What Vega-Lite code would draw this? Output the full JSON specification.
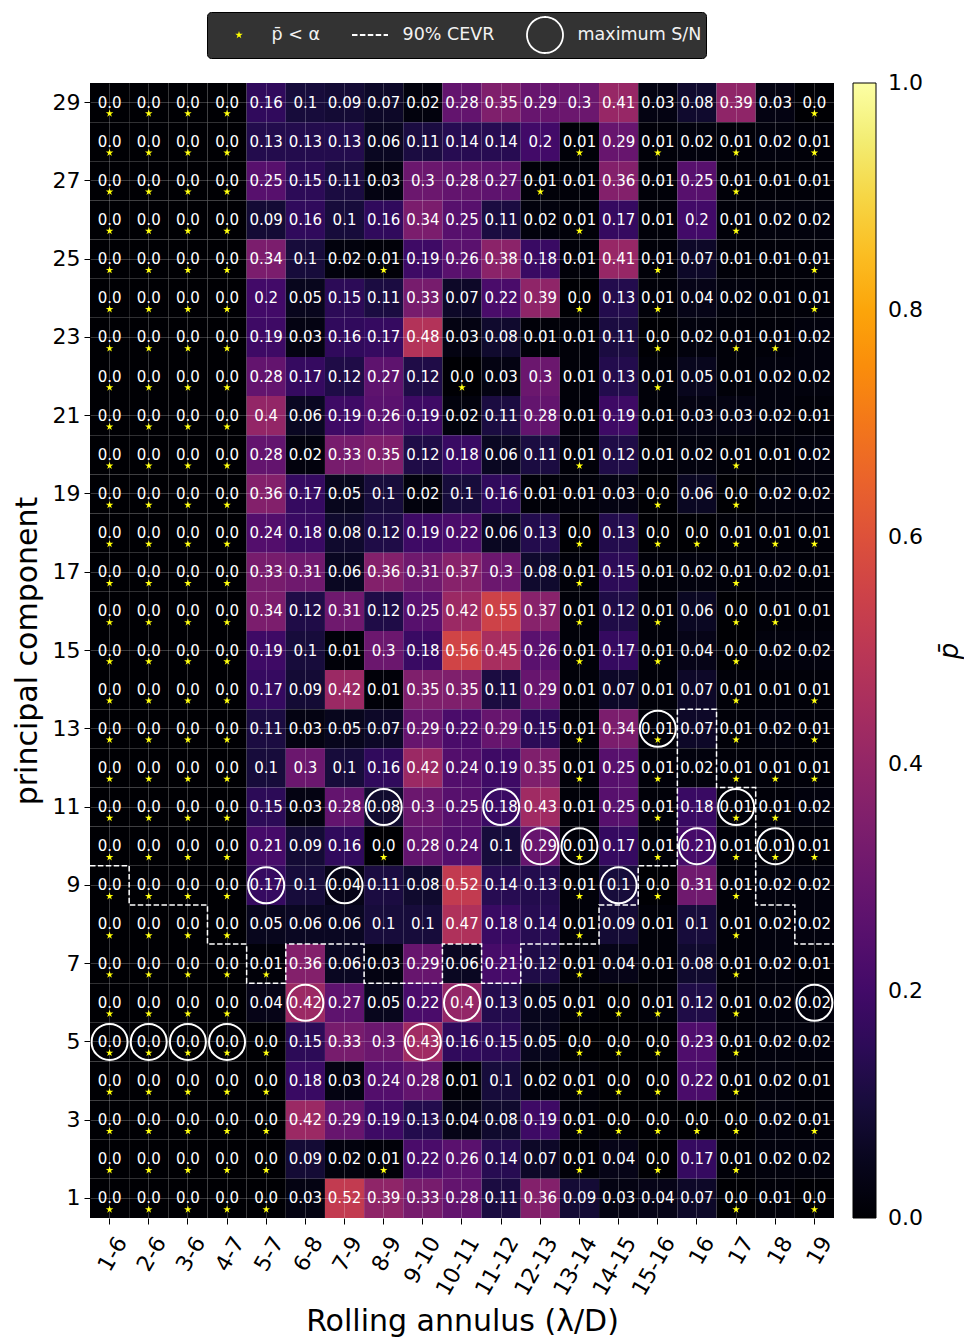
{
  "$schema": "https://vega.github.io/schema/vega-lite/v6.json",
  "width": 744,
  "height": 1135,
  "autosize": {"type": "none"},
  "padding": {"left": 90, "top": 83, "right": 130, "bottom": 119},
  "background": "white",
  "config": {"font": "DejaVu Sans", "view": {"stroke": null}},
  "datasets": {
    "cells": [
      {"a":"1-6","k":29,"p":"0.0","s":1},{"a":"2-6","k":29,"p":"0.0","s":1},{"a":"3-6","k":29,"p":"0.0","s":1},{"a":"4-7","k":29,"p":"0.0","s":1},{"a":"5-7","k":29,"p":"0.16"},{"a":"6-8","k":29,"p":"0.1"},{"a":"7-9","k":29,"p":"0.09"},{"a":"8-9","k":29,"p":"0.07"},{"a":"9-10","k":29,"p":"0.02"},{"a":"10-11","k":29,"p":"0.28"},{"a":"11-12","k":29,"p":"0.35"},{"a":"12-13","k":29,"p":"0.29"},{"a":"13-14","k":29,"p":"0.3"},{"a":"14-15","k":29,"p":"0.41"},{"a":"15-16","k":29,"p":"0.03"},{"a":"16","k":29,"p":"0.08"},{"a":"17","k":29,"p":"0.39"},{"a":"18","k":29,"p":"0.03"},{"a":"19","k":29,"p":"0.0","s":1},
      {"a":"1-6","k":28,"p":"0.0","s":1},{"a":"2-6","k":28,"p":"0.0","s":1},{"a":"3-6","k":28,"p":"0.0","s":1},{"a":"4-7","k":28,"p":"0.0","s":1},{"a":"5-7","k":28,"p":"0.13"},{"a":"6-8","k":28,"p":"0.13"},{"a":"7-9","k":28,"p":"0.13"},{"a":"8-9","k":28,"p":"0.06"},{"a":"9-10","k":28,"p":"0.11"},{"a":"10-11","k":28,"p":"0.14"},{"a":"11-12","k":28,"p":"0.14"},{"a":"12-13","k":28,"p":"0.2"},{"a":"13-14","k":28,"p":"0.01","s":1},{"a":"14-15","k":28,"p":"0.29"},{"a":"15-16","k":28,"p":"0.01","s":1},{"a":"16","k":28,"p":"0.02"},{"a":"17","k":28,"p":"0.01","s":1},{"a":"18","k":28,"p":"0.02"},{"a":"19","k":28,"p":"0.01","s":1},
      {"a":"1-6","k":27,"p":"0.0","s":1},{"a":"2-6","k":27,"p":"0.0","s":1},{"a":"3-6","k":27,"p":"0.0","s":1},{"a":"4-7","k":27,"p":"0.0","s":1},{"a":"5-7","k":27,"p":"0.25"},{"a":"6-8","k":27,"p":"0.15"},{"a":"7-9","k":27,"p":"0.11"},{"a":"8-9","k":27,"p":"0.03"},{"a":"9-10","k":27,"p":"0.3"},{"a":"10-11","k":27,"p":"0.28"},{"a":"11-12","k":27,"p":"0.27"},{"a":"12-13","k":27,"p":"0.01","s":1},{"a":"13-14","k":27,"p":"0.01"},{"a":"14-15","k":27,"p":"0.36"},{"a":"15-16","k":27,"p":"0.01"},{"a":"16","k":27,"p":"0.25"},{"a":"17","k":27,"p":"0.01","s":1},{"a":"18","k":27,"p":"0.01"},{"a":"19","k":27,"p":"0.01"},
      {"a":"1-6","k":26,"p":"0.0","s":1},{"a":"2-6","k":26,"p":"0.0","s":1},{"a":"3-6","k":26,"p":"0.0","s":1},{"a":"4-7","k":26,"p":"0.0","s":1},{"a":"5-7","k":26,"p":"0.09"},{"a":"6-8","k":26,"p":"0.16"},{"a":"7-9","k":26,"p":"0.1"},{"a":"8-9","k":26,"p":"0.16"},{"a":"9-10","k":26,"p":"0.34"},{"a":"10-11","k":26,"p":"0.25"},{"a":"11-12","k":26,"p":"0.11"},{"a":"12-13","k":26,"p":"0.02"},{"a":"13-14","k":26,"p":"0.01","s":1},{"a":"14-15","k":26,"p":"0.17"},{"a":"15-16","k":26,"p":"0.01"},{"a":"16","k":26,"p":"0.2"},{"a":"17","k":26,"p":"0.01","s":1},{"a":"18","k":26,"p":"0.02"},{"a":"19","k":26,"p":"0.02"},
      {"a":"1-6","k":25,"p":"0.0","s":1},{"a":"2-6","k":25,"p":"0.0","s":1},{"a":"3-6","k":25,"p":"0.0","s":1},{"a":"4-7","k":25,"p":"0.0","s":1},{"a":"5-7","k":25,"p":"0.34"},{"a":"6-8","k":25,"p":"0.1"},{"a":"7-9","k":25,"p":"0.02"},{"a":"8-9","k":25,"p":"0.01","s":1},{"a":"9-10","k":25,"p":"0.19"},{"a":"10-11","k":25,"p":"0.26"},{"a":"11-12","k":25,"p":"0.38"},{"a":"12-13","k":25,"p":"0.18"},{"a":"13-14","k":25,"p":"0.01"},{"a":"14-15","k":25,"p":"0.41"},{"a":"15-16","k":25,"p":"0.01","s":1},{"a":"16","k":25,"p":"0.07"},{"a":"17","k":25,"p":"0.01"},{"a":"18","k":25,"p":"0.01"},{"a":"19","k":25,"p":"0.01","s":1},
      {"a":"1-6","k":24,"p":"0.0","s":1},{"a":"2-6","k":24,"p":"0.0","s":1},{"a":"3-6","k":24,"p":"0.0","s":1},{"a":"4-7","k":24,"p":"0.0","s":1},{"a":"5-7","k":24,"p":"0.2"},{"a":"6-8","k":24,"p":"0.05"},{"a":"7-9","k":24,"p":"0.15"},{"a":"8-9","k":24,"p":"0.11"},{"a":"9-10","k":24,"p":"0.33"},{"a":"10-11","k":24,"p":"0.07"},{"a":"11-12","k":24,"p":"0.22"},{"a":"12-13","k":24,"p":"0.39"},{"a":"13-14","k":24,"p":"0.0","s":1},{"a":"14-15","k":24,"p":"0.13"},{"a":"15-16","k":24,"p":"0.01","s":1},{"a":"16","k":24,"p":"0.04"},{"a":"17","k":24,"p":"0.02"},{"a":"18","k":24,"p":"0.01"},{"a":"19","k":24,"p":"0.01","s":1},
      {"a":"1-6","k":23,"p":"0.0","s":1},{"a":"2-6","k":23,"p":"0.0","s":1},{"a":"3-6","k":23,"p":"0.0","s":1},{"a":"4-7","k":23,"p":"0.0","s":1},{"a":"5-7","k":23,"p":"0.19"},{"a":"6-8","k":23,"p":"0.03"},{"a":"7-9","k":23,"p":"0.16"},{"a":"8-9","k":23,"p":"0.17"},{"a":"9-10","k":23,"p":"0.48"},{"a":"10-11","k":23,"p":"0.03"},{"a":"11-12","k":23,"p":"0.08"},{"a":"12-13","k":23,"p":"0.01"},{"a":"13-14","k":23,"p":"0.01"},{"a":"14-15","k":23,"p":"0.11"},{"a":"15-16","k":23,"p":"0.0","s":1},{"a":"16","k":23,"p":"0.02"},{"a":"17","k":23,"p":"0.01","s":1},{"a":"18","k":23,"p":"0.01","s":1},{"a":"19","k":23,"p":"0.02"},
      {"a":"1-6","k":22,"p":"0.0","s":1},{"a":"2-6","k":22,"p":"0.0","s":1},{"a":"3-6","k":22,"p":"0.0","s":1},{"a":"4-7","k":22,"p":"0.0","s":1},{"a":"5-7","k":22,"p":"0.28"},{"a":"6-8","k":22,"p":"0.17"},{"a":"7-9","k":22,"p":"0.12"},{"a":"8-9","k":22,"p":"0.27"},{"a":"9-10","k":22,"p":"0.12"},{"a":"10-11","k":22,"p":"0.0","s":1},{"a":"11-12","k":22,"p":"0.03"},{"a":"12-13","k":22,"p":"0.3"},{"a":"13-14","k":22,"p":"0.01"},{"a":"14-15","k":22,"p":"0.13"},{"a":"15-16","k":22,"p":"0.01","s":1},{"a":"16","k":22,"p":"0.05"},{"a":"17","k":22,"p":"0.01"},{"a":"18","k":22,"p":"0.02"},{"a":"19","k":22,"p":"0.02"},
      {"a":"1-6","k":21,"p":"0.0","s":1},{"a":"2-6","k":21,"p":"0.0","s":1},{"a":"3-6","k":21,"p":"0.0","s":1},{"a":"4-7","k":21,"p":"0.0","s":1},{"a":"5-7","k":21,"p":"0.4"},{"a":"6-8","k":21,"p":"0.06"},{"a":"7-9","k":21,"p":"0.19"},{"a":"8-9","k":21,"p":"0.26"},{"a":"9-10","k":21,"p":"0.19"},{"a":"10-11","k":21,"p":"0.02"},{"a":"11-12","k":21,"p":"0.11"},{"a":"12-13","k":21,"p":"0.28"},{"a":"13-14","k":21,"p":"0.01"},{"a":"14-15","k":21,"p":"0.19"},{"a":"15-16","k":21,"p":"0.01"},{"a":"16","k":21,"p":"0.03"},{"a":"17","k":21,"p":"0.03"},{"a":"18","k":21,"p":"0.02"},{"a":"19","k":21,"p":"0.01"},
      {"a":"1-6","k":20,"p":"0.0","s":1},{"a":"2-6","k":20,"p":"0.0","s":1},{"a":"3-6","k":20,"p":"0.0","s":1},{"a":"4-7","k":20,"p":"0.0","s":1},{"a":"5-7","k":20,"p":"0.28"},{"a":"6-8","k":20,"p":"0.02"},{"a":"7-9","k":20,"p":"0.33"},{"a":"8-9","k":20,"p":"0.35"},{"a":"9-10","k":20,"p":"0.12"},{"a":"10-11","k":20,"p":"0.18"},{"a":"11-12","k":20,"p":"0.06"},{"a":"12-13","k":20,"p":"0.11"},{"a":"13-14","k":20,"p":"0.01","s":1},{"a":"14-15","k":20,"p":"0.12"},{"a":"15-16","k":20,"p":"0.01"},{"a":"16","k":20,"p":"0.02"},{"a":"17","k":20,"p":"0.01","s":1},{"a":"18","k":20,"p":"0.01"},{"a":"19","k":20,"p":"0.02"},
      {"a":"1-6","k":19,"p":"0.0","s":1},{"a":"2-6","k":19,"p":"0.0","s":1},{"a":"3-6","k":19,"p":"0.0","s":1},{"a":"4-7","k":19,"p":"0.0","s":1},{"a":"5-7","k":19,"p":"0.36"},{"a":"6-8","k":19,"p":"0.17"},{"a":"7-9","k":19,"p":"0.05"},{"a":"8-9","k":19,"p":"0.1"},{"a":"9-10","k":19,"p":"0.02"},{"a":"10-11","k":19,"p":"0.1"},{"a":"11-12","k":19,"p":"0.16"},{"a":"12-13","k":19,"p":"0.01"},{"a":"13-14","k":19,"p":"0.01"},{"a":"14-15","k":19,"p":"0.03"},{"a":"15-16","k":19,"p":"0.0","s":1},{"a":"16","k":19,"p":"0.06"},{"a":"17","k":19,"p":"0.0","s":1},{"a":"18","k":19,"p":"0.02"},{"a":"19","k":19,"p":"0.02"},
      {"a":"1-6","k":18,"p":"0.0","s":1},{"a":"2-6","k":18,"p":"0.0","s":1},{"a":"3-6","k":18,"p":"0.0","s":1},{"a":"4-7","k":18,"p":"0.0","s":1},{"a":"5-7","k":18,"p":"0.24"},{"a":"6-8","k":18,"p":"0.18"},{"a":"7-9","k":18,"p":"0.08"},{"a":"8-9","k":18,"p":"0.12"},{"a":"9-10","k":18,"p":"0.19"},{"a":"10-11","k":18,"p":"0.22"},{"a":"11-12","k":18,"p":"0.06"},{"a":"12-13","k":18,"p":"0.13"},{"a":"13-14","k":18,"p":"0.0","s":1},{"a":"14-15","k":18,"p":"0.13"},{"a":"15-16","k":18,"p":"0.0","s":1},{"a":"16","k":18,"p":"0.0","s":1},{"a":"17","k":18,"p":"0.01","s":1},{"a":"18","k":18,"p":"0.01","s":1},{"a":"19","k":18,"p":"0.01","s":1},
      {"a":"1-6","k":17,"p":"0.0","s":1},{"a":"2-6","k":17,"p":"0.0","s":1},{"a":"3-6","k":17,"p":"0.0","s":1},{"a":"4-7","k":17,"p":"0.0","s":1},{"a":"5-7","k":17,"p":"0.33"},{"a":"6-8","k":17,"p":"0.31"},{"a":"7-9","k":17,"p":"0.06"},{"a":"8-9","k":17,"p":"0.36"},{"a":"9-10","k":17,"p":"0.31"},{"a":"10-11","k":17,"p":"0.37"},{"a":"11-12","k":17,"p":"0.3"},{"a":"12-13","k":17,"p":"0.08"},{"a":"13-14","k":17,"p":"0.01","s":1},{"a":"14-15","k":17,"p":"0.15"},{"a":"15-16","k":17,"p":"0.01"},{"a":"16","k":17,"p":"0.02"},{"a":"17","k":17,"p":"0.01","s":1},{"a":"18","k":17,"p":"0.02"},{"a":"19","k":17,"p":"0.01"},
      {"a":"1-6","k":16,"p":"0.0","s":1},{"a":"2-6","k":16,"p":"0.0","s":1},{"a":"3-6","k":16,"p":"0.0","s":1},{"a":"4-7","k":16,"p":"0.0","s":1},{"a":"5-7","k":16,"p":"0.34"},{"a":"6-8","k":16,"p":"0.12"},{"a":"7-9","k":16,"p":"0.31"},{"a":"8-9","k":16,"p":"0.12"},{"a":"9-10","k":16,"p":"0.25"},{"a":"10-11","k":16,"p":"0.42"},{"a":"11-12","k":16,"p":"0.55"},{"a":"12-13","k":16,"p":"0.37"},{"a":"13-14","k":16,"p":"0.01","s":1},{"a":"14-15","k":16,"p":"0.12"},{"a":"15-16","k":16,"p":"0.01","s":1},{"a":"16","k":16,"p":"0.06"},{"a":"17","k":16,"p":"0.0","s":1},{"a":"18","k":16,"p":"0.01","s":1},{"a":"19","k":16,"p":"0.01"},
      {"a":"1-6","k":15,"p":"0.0","s":1},{"a":"2-6","k":15,"p":"0.0","s":1},{"a":"3-6","k":15,"p":"0.0","s":1},{"a":"4-7","k":15,"p":"0.0","s":1},{"a":"5-7","k":15,"p":"0.19"},{"a":"6-8","k":15,"p":"0.1"},{"a":"7-9","k":15,"p":"0.01"},{"a":"8-9","k":15,"p":"0.3"},{"a":"9-10","k":15,"p":"0.18"},{"a":"10-11","k":15,"p":"0.56"},{"a":"11-12","k":15,"p":"0.45"},{"a":"12-13","k":15,"p":"0.26"},{"a":"13-14","k":15,"p":"0.01","s":1},{"a":"14-15","k":15,"p":"0.17"},{"a":"15-16","k":15,"p":"0.01","s":1},{"a":"16","k":15,"p":"0.04"},{"a":"17","k":15,"p":"0.0","s":1},{"a":"18","k":15,"p":"0.02"},{"a":"19","k":15,"p":"0.02"},
      {"a":"1-6","k":14,"p":"0.0","s":1},{"a":"2-6","k":14,"p":"0.0","s":1},{"a":"3-6","k":14,"p":"0.0","s":1},{"a":"4-7","k":14,"p":"0.0","s":1},{"a":"5-7","k":14,"p":"0.17"},{"a":"6-8","k":14,"p":"0.09"},{"a":"7-9","k":14,"p":"0.42"},{"a":"8-9","k":14,"p":"0.01"},{"a":"9-10","k":14,"p":"0.35"},{"a":"10-11","k":14,"p":"0.35"},{"a":"11-12","k":14,"p":"0.11"},{"a":"12-13","k":14,"p":"0.29"},{"a":"13-14","k":14,"p":"0.01"},{"a":"14-15","k":14,"p":"0.07"},{"a":"15-16","k":14,"p":"0.01"},{"a":"16","k":14,"p":"0.07"},{"a":"17","k":14,"p":"0.01","s":1},{"a":"18","k":14,"p":"0.01"},{"a":"19","k":14,"p":"0.01","s":1},
      {"a":"1-6","k":13,"p":"0.0","s":1},{"a":"2-6","k":13,"p":"0.0","s":1},{"a":"3-6","k":13,"p":"0.0","s":1},{"a":"4-7","k":13,"p":"0.0","s":1},{"a":"5-7","k":13,"p":"0.11"},{"a":"6-8","k":13,"p":"0.03"},{"a":"7-9","k":13,"p":"0.05"},{"a":"8-9","k":13,"p":"0.07"},{"a":"9-10","k":13,"p":"0.29"},{"a":"10-11","k":13,"p":"0.22"},{"a":"11-12","k":13,"p":"0.29"},{"a":"12-13","k":13,"p":"0.15"},{"a":"13-14","k":13,"p":"0.01","s":1},{"a":"14-15","k":13,"p":"0.34"},{"a":"15-16","k":13,"p":"0.01","s":1},{"a":"16","k":13,"p":"0.07"},{"a":"17","k":13,"p":"0.01","s":1},{"a":"18","k":13,"p":"0.02"},{"a":"19","k":13,"p":"0.01","s":1},
      {"a":"1-6","k":12,"p":"0.0","s":1},{"a":"2-6","k":12,"p":"0.0","s":1},{"a":"3-6","k":12,"p":"0.0","s":1},{"a":"4-7","k":12,"p":"0.0","s":1},{"a":"5-7","k":12,"p":"0.1"},{"a":"6-8","k":12,"p":"0.3"},{"a":"7-9","k":12,"p":"0.1"},{"a":"8-9","k":12,"p":"0.16"},{"a":"9-10","k":12,"p":"0.42"},{"a":"10-11","k":12,"p":"0.24"},{"a":"11-12","k":12,"p":"0.19"},{"a":"12-13","k":12,"p":"0.35"},{"a":"13-14","k":12,"p":"0.01","s":1},{"a":"14-15","k":12,"p":"0.25"},{"a":"15-16","k":12,"p":"0.01","s":1},{"a":"16","k":12,"p":"0.02"},{"a":"17","k":12,"p":"0.01","s":1},{"a":"18","k":12,"p":"0.01","s":1},{"a":"19","k":12,"p":"0.01","s":1},
      {"a":"1-6","k":11,"p":"0.0","s":1},{"a":"2-6","k":11,"p":"0.0","s":1},{"a":"3-6","k":11,"p":"0.0","s":1},{"a":"4-7","k":11,"p":"0.0","s":1},{"a":"5-7","k":11,"p":"0.15"},{"a":"6-8","k":11,"p":"0.03"},{"a":"7-9","k":11,"p":"0.28"},{"a":"8-9","k":11,"p":"0.08"},{"a":"9-10","k":11,"p":"0.3"},{"a":"10-11","k":11,"p":"0.25"},{"a":"11-12","k":11,"p":"0.18"},{"a":"12-13","k":11,"p":"0.43"},{"a":"13-14","k":11,"p":"0.01"},{"a":"14-15","k":11,"p":"0.25"},{"a":"15-16","k":11,"p":"0.01","s":1},{"a":"16","k":11,"p":"0.18"},{"a":"17","k":11,"p":"0.01","s":1},{"a":"18","k":11,"p":"0.01","s":1},{"a":"19","k":11,"p":"0.02"},
      {"a":"1-6","k":10,"p":"0.0","s":1},{"a":"2-6","k":10,"p":"0.0","s":1},{"a":"3-6","k":10,"p":"0.0","s":1},{"a":"4-7","k":10,"p":"0.0","s":1},{"a":"5-7","k":10,"p":"0.21"},{"a":"6-8","k":10,"p":"0.09"},{"a":"7-9","k":10,"p":"0.16"},{"a":"8-9","k":10,"p":"0.0","s":1},{"a":"9-10","k":10,"p":"0.28"},{"a":"10-11","k":10,"p":"0.24"},{"a":"11-12","k":10,"p":"0.1"},{"a":"12-13","k":10,"p":"0.29"},{"a":"13-14","k":10,"p":"0.01","s":1},{"a":"14-15","k":10,"p":"0.17"},{"a":"15-16","k":10,"p":"0.01","s":1},{"a":"16","k":10,"p":"0.21"},{"a":"17","k":10,"p":"0.01","s":1},{"a":"18","k":10,"p":"0.01","s":1},{"a":"19","k":10,"p":"0.01","s":1},
      {"a":"1-6","k":9,"p":"0.0","s":1},{"a":"2-6","k":9,"p":"0.0","s":1},{"a":"3-6","k":9,"p":"0.0","s":1},{"a":"4-7","k":9,"p":"0.0","s":1},{"a":"5-7","k":9,"p":"0.17"},{"a":"6-8","k":9,"p":"0.1"},{"a":"7-9","k":9,"p":"0.04"},{"a":"8-9","k":9,"p":"0.11"},{"a":"9-10","k":9,"p":"0.08"},{"a":"10-11","k":9,"p":"0.52"},{"a":"11-12","k":9,"p":"0.14"},{"a":"12-13","k":9,"p":"0.13"},{"a":"13-14","k":9,"p":"0.01","s":1},{"a":"14-15","k":9,"p":"0.1"},{"a":"15-16","k":9,"p":"0.0","s":1},{"a":"16","k":9,"p":"0.31"},{"a":"17","k":9,"p":"0.01","s":1},{"a":"18","k":9,"p":"0.02"},{"a":"19","k":9,"p":"0.02"},
      {"a":"1-6","k":8,"p":"0.0","s":1},{"a":"2-6","k":8,"p":"0.0","s":1},{"a":"3-6","k":8,"p":"0.0","s":1},{"a":"4-7","k":8,"p":"0.0","s":1},{"a":"5-7","k":8,"p":"0.05"},{"a":"6-8","k":8,"p":"0.06"},{"a":"7-9","k":8,"p":"0.06"},{"a":"8-9","k":8,"p":"0.1"},{"a":"9-10","k":8,"p":"0.1"},{"a":"10-11","k":8,"p":"0.47"},{"a":"11-12","k":8,"p":"0.18"},{"a":"12-13","k":8,"p":"0.14"},{"a":"13-14","k":8,"p":"0.01","s":1},{"a":"14-15","k":8,"p":"0.09"},{"a":"15-16","k":8,"p":"0.01"},{"a":"16","k":8,"p":"0.1"},{"a":"17","k":8,"p":"0.01","s":1},{"a":"18","k":8,"p":"0.02"},{"a":"19","k":8,"p":"0.02"},
      {"a":"1-6","k":7,"p":"0.0","s":1},{"a":"2-6","k":7,"p":"0.0","s":1},{"a":"3-6","k":7,"p":"0.0","s":1},{"a":"4-7","k":7,"p":"0.0","s":1},{"a":"5-7","k":7,"p":"0.01","s":1},{"a":"6-8","k":7,"p":"0.36"},{"a":"7-9","k":7,"p":"0.06"},{"a":"8-9","k":7,"p":"0.03"},{"a":"9-10","k":7,"p":"0.29"},{"a":"10-11","k":7,"p":"0.06"},{"a":"11-12","k":7,"p":"0.21"},{"a":"12-13","k":7,"p":"0.12"},{"a":"13-14","k":7,"p":"0.01","s":1},{"a":"14-15","k":7,"p":"0.04"},{"a":"15-16","k":7,"p":"0.01"},{"a":"16","k":7,"p":"0.08"},{"a":"17","k":7,"p":"0.01","s":1},{"a":"18","k":7,"p":"0.02"},{"a":"19","k":7,"p":"0.01"},
      {"a":"1-6","k":6,"p":"0.0","s":1},{"a":"2-6","k":6,"p":"0.0","s":1},{"a":"3-6","k":6,"p":"0.0","s":1},{"a":"4-7","k":6,"p":"0.0","s":1},{"a":"5-7","k":6,"p":"0.04"},{"a":"6-8","k":6,"p":"0.42"},{"a":"7-9","k":6,"p":"0.27"},{"a":"8-9","k":6,"p":"0.05"},{"a":"9-10","k":6,"p":"0.22"},{"a":"10-11","k":6,"p":"0.4"},{"a":"11-12","k":6,"p":"0.13"},{"a":"12-13","k":6,"p":"0.05"},{"a":"13-14","k":6,"p":"0.01","s":1},{"a":"14-15","k":6,"p":"0.0","s":1},{"a":"15-16","k":6,"p":"0.01","s":1},{"a":"16","k":6,"p":"0.12"},{"a":"17","k":6,"p":"0.01","s":1},{"a":"18","k":6,"p":"0.02"},{"a":"19","k":6,"p":"0.02"},
      {"a":"1-6","k":5,"p":"0.0","s":1},{"a":"2-6","k":5,"p":"0.0","s":1},{"a":"3-6","k":5,"p":"0.0","s":1},{"a":"4-7","k":5,"p":"0.0","s":1},{"a":"5-7","k":5,"p":"0.0","s":1},{"a":"6-8","k":5,"p":"0.15"},{"a":"7-9","k":5,"p":"0.33"},{"a":"8-9","k":5,"p":"0.3"},{"a":"9-10","k":5,"p":"0.43"},{"a":"10-11","k":5,"p":"0.16"},{"a":"11-12","k":5,"p":"0.15"},{"a":"12-13","k":5,"p":"0.05"},{"a":"13-14","k":5,"p":"0.0","s":1},{"a":"14-15","k":5,"p":"0.0","s":1},{"a":"15-16","k":5,"p":"0.0","s":1},{"a":"16","k":5,"p":"0.23"},{"a":"17","k":5,"p":"0.01","s":1},{"a":"18","k":5,"p":"0.02"},{"a":"19","k":5,"p":"0.02"},
      {"a":"1-6","k":4,"p":"0.0","s":1},{"a":"2-6","k":4,"p":"0.0","s":1},{"a":"3-6","k":4,"p":"0.0","s":1},{"a":"4-7","k":4,"p":"0.0","s":1},{"a":"5-7","k":4,"p":"0.0","s":1},{"a":"6-8","k":4,"p":"0.18"},{"a":"7-9","k":4,"p":"0.03"},{"a":"8-9","k":4,"p":"0.24"},{"a":"9-10","k":4,"p":"0.28"},{"a":"10-11","k":4,"p":"0.01"},{"a":"11-12","k":4,"p":"0.1"},{"a":"12-13","k":4,"p":"0.02"},{"a":"13-14","k":4,"p":"0.01","s":1},{"a":"14-15","k":4,"p":"0.0","s":1},{"a":"15-16","k":4,"p":"0.0","s":1},{"a":"16","k":4,"p":"0.22"},{"a":"17","k":4,"p":"0.01","s":1},{"a":"18","k":4,"p":"0.02"},{"a":"19","k":4,"p":"0.01"},
      {"a":"1-6","k":3,"p":"0.0","s":1},{"a":"2-6","k":3,"p":"0.0","s":1},{"a":"3-6","k":3,"p":"0.0","s":1},{"a":"4-7","k":3,"p":"0.0","s":1},{"a":"5-7","k":3,"p":"0.0","s":1},{"a":"6-8","k":3,"p":"0.42"},{"a":"7-9","k":3,"p":"0.29"},{"a":"8-9","k":3,"p":"0.19"},{"a":"9-10","k":3,"p":"0.13"},{"a":"10-11","k":3,"p":"0.04"},{"a":"11-12","k":3,"p":"0.08"},{"a":"12-13","k":3,"p":"0.19"},{"a":"13-14","k":3,"p":"0.01","s":1},{"a":"14-15","k":3,"p":"0.0","s":1},{"a":"15-16","k":3,"p":"0.0","s":1},{"a":"16","k":3,"p":"0.0","s":1},{"a":"17","k":3,"p":"0.0","s":1},{"a":"18","k":3,"p":"0.02"},{"a":"19","k":3,"p":"0.01","s":1},
      {"a":"1-6","k":2,"p":"0.0","s":1},{"a":"2-6","k":2,"p":"0.0","s":1},{"a":"3-6","k":2,"p":"0.0","s":1},{"a":"4-7","k":2,"p":"0.0","s":1},{"a":"5-7","k":2,"p":"0.0","s":1},{"a":"6-8","k":2,"p":"0.09"},{"a":"7-9","k":2,"p":"0.02"},{"a":"8-9","k":2,"p":"0.01","s":1},{"a":"9-10","k":2,"p":"0.22"},{"a":"10-11","k":2,"p":"0.26"},{"a":"11-12","k":2,"p":"0.14"},{"a":"12-13","k":2,"p":"0.07"},{"a":"13-14","k":2,"p":"0.01","s":1},{"a":"14-15","k":2,"p":"0.04"},{"a":"15-16","k":2,"p":"0.0","s":1},{"a":"16","k":2,"p":"0.17"},{"a":"17","k":2,"p":"0.01","s":1},{"a":"18","k":2,"p":"0.02"},{"a":"19","k":2,"p":"0.02"},
      {"a":"1-6","k":1,"p":"0.0","s":1},{"a":"2-6","k":1,"p":"0.0","s":1},{"a":"3-6","k":1,"p":"0.0","s":1},{"a":"4-7","k":1,"p":"0.0","s":1},{"a":"5-7","k":1,"p":"0.0","s":1},{"a":"6-8","k":1,"p":"0.03"},{"a":"7-9","k":1,"p":"0.52"},{"a":"8-9","k":1,"p":"0.39"},{"a":"9-10","k":1,"p":"0.33"},{"a":"10-11","k":1,"p":"0.28"},{"a":"11-12","k":1,"p":"0.11"},{"a":"12-13","k":1,"p":"0.36"},{"a":"13-14","k":1,"p":"0.09"},{"a":"14-15","k":1,"p":"0.03"},{"a":"15-16","k":1,"p":"0.04"},{"a":"16","k":1,"p":"0.07"},{"a":"17","k":1,"p":"0.0","s":1},{"a":"18","k":1,"p":"0.01"},{"a":"19","k":1,"p":"0.0","s":1}
    ],
    "maxsn": [
      {"a":"1-6","k":5},{"a":"2-6","k":5},{"a":"3-6","k":5},{"a":"4-7","k":5},{"a":"5-7","k":9},{"a":"6-8","k":6},{"a":"7-9","k":9},{"a":"8-9","k":11},{"a":"9-10","k":5},{"a":"10-11","k":6},{"a":"11-12","k":11},{"a":"12-13","k":10},{"a":"13-14","k":10},{"a":"14-15","k":9},{"a":"15-16","k":13},{"a":"16","k":10},{"a":"17","k":11},{"a":"18","k":10},{"a":"19","k":6}
    ],
    "cevr": [
      {"e":0,"k":9},{"e":1,"k":8},{"e":2,"k":8},{"e":3,"k":7},{"e":4,"k":6},{"e":5,"k":7},{"e":6,"k":7},{"e":7,"k":6},{"e":8,"k":6},{"e":9,"k":7},{"e":10,"k":6},{"e":11,"k":7},{"e":12,"k":7},{"e":13,"k":8},{"e":14,"k":9},{"e":15,"k":13},{"e":16,"k":11},{"e":17,"k":8},{"e":18,"k":7},{"e":19,"k":7}
    ]
  },
  "resolve": {"scale": {"x": "independent"}, "axis": {"x": "independent", "y": "independent"}},
  "layer": [
    {
      "encoding": {
        "x": {"field": "a", "type": "ordinal", "title": "Rolling annulus (λ/D)",
          "sort": ["1-6","2-6","3-6","4-7","5-7","6-8","7-9","8-9","9-10","10-11","11-12","12-13","13-14","14-15","15-16","16","17","18","19"],
          "scale": {"paddingInner": 0, "paddingOuter": 0},
          "axis": {"labelAngle": -60, "labelAlign": "right", "labelBaseline": "middle", "labelFontSize": 22, "labelOffset": 12, "labelPadding": 14, "labelOverlap": false, "labelBound": false, "labelColor": "black", "tickSize": 6, "tickColor": "black", "domain": false, "grid": true, "gridColor": "white", "gridOpacity": 0.22, "gridWidth": 1, "bandPosition": 0.5, "zindex": 1, "titleFontSize": 30, "titleFontWeight": "normal", "titleColor": "black", "titlePadding": 8}},
        "y": {"field": "k", "type": "ordinal", "sort": "descending", "title": "principal component",
          "scale": {"paddingInner": 0, "paddingOuter": 0},
          "axis": {"orient": "left", "values": [1,3,5,7,9,11,13,15,17,19,21,23,25,27,29], "labelFontSize": 22, "labelPadding": 4, "labelColor": "black", "labelAngle": 0, "tickSize": 6, "tickColor": "black", "domain": false, "grid": true, "gridColor": "white", "gridOpacity": 0.22, "gridWidth": 1, "bandPosition": 0.5, "zindex": 1, "titleFontSize": 30, "titleFontWeight": "normal", "titleColor": "black", "titlePadding": 10}}
      },
      "layer": [
        {
          "data": {"name": "cells"},
          "mark": {"type": "rect"},
          "encoding": {
            "color": {"field": "p", "type": "quantitative",
              "scale": {"scheme": "inferno", "domain": [0, 1]},
              "legend": {"title": null, "orient": "none", "legendX": 763, "legendY": 0, "padding": 0, "direction": "vertical", "gradientLength": 1135, "gradientThickness": 23, "gradientStrokeColor": "black", "gradientStrokeWidth": 1, "values": [0.0001, 0.2, 0.4, 0.6, 0.8, 0.9999], "format": ".1f", "labelFontSize": 22, "labelOffset": 12, "labelColor": "black", "labelOverlap": false}}
          }
        },
        {
          "data": {"name": "cells"},
          "mark": {"type": "text", "color": "white", "fontSize": 15, "baseline": "middle"},
          "encoding": {"text": {"field": "p", "type": "nominal"}}
        },
        {
          "data": {"name": "cells"},
          "transform": [{"filter": "datum.s === 1"}],
          "mark": {"type": "point", "filled": true, "opacity": 1, "size": 1296, "yOffset": 11},
          "encoding": {
            "shape": {"datum": "p̄ < α",
              "scale": {"domain": ["p̄ < α", "90% CEVR", "maximum S/N"], "range": ["M0,-0.22L0.0494,-0.068L0.2092,-0.068L0.0799,0.026L0.1293,0.178L0,0.084L-0.1293,0.178L-0.0799,0.026L-0.2092,-0.068L-0.0494,-0.068Z", "stroke", "circle"]},
              "legend": {"title": null, "orient": "none", "legendX": 117, "legendY": -71, "direction": "horizontal", "fillColor": "#333333", "strokeColor": "#000000", "cornerRadius": 4, "padding": 4, "clipHeight": 38, "symbolSize": 1296, "symbolStrokeWidth": 1.8, "symbolOffset": 9, "labelOffset": 13.5, "columnPadding": 22, "labelFontSize": 17.5, "labelColor": "#f2f2f2"}},
            "fill": {"datum": "p̄ < α",
              "scale": {"domain": ["p̄ < α", "90% CEVR", "maximum S/N"], "range": ["#ffff00", "transparent", "transparent"]}},
            "stroke": {"datum": "p̄ < α",
              "scale": {"domain": ["p̄ < α", "90% CEVR", "maximum S/N"], "range": ["transparent", "#ffffff", "#ffffff"]}},
            "strokeDash": {"datum": "p̄ < α",
              "scale": {"domain": ["p̄ < α", "90% CEVR", "maximum S/N"], "range": [[1, 0], [5.5, 2.4], [1, 0]]}}
          }
        },
        {
          "data": {"name": "maxsn"},
          "mark": {"type": "point", "shape": "circle", "filled": false, "size": 1296, "stroke": "white", "strokeWidth": 2, "opacity": 1}
        }
      ]
    },
    {
      "data": {"name": "cevr"},
      "mark": {"type": "line", "stroke": "white", "strokeWidth": 1.5, "strokeDash": [5.5, 2.4], "interpolate": "step-after"},
      "encoding": {
        "x": {"field": "e", "type": "ordinal", "scale": {"type": "point", "padding": 0}, "axis": null},
        "y": {"field": "k", "type": "ordinal", "sort": "descending", "title": "p̄", "bandPosition": 0,
          "axis": {"orient": "right", "labels": false, "ticks": false, "domain": false, "grid": false, "offset": 128, "titlePadding": 0, "titleAngle": -90, "titleBaseline": "bottom", "titleFontSize": 26, "titleFontStyle": "italic", "titleFontWeight": "normal", "titleColor": "black"}}
      }
    }
  ]
}
